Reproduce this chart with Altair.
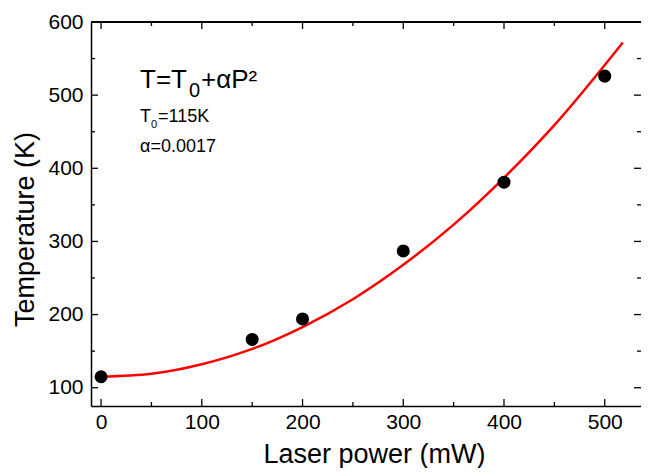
import altair as alt
import pandas as pd

# measured data points
power = [0, 150, 200, 300, 400, 500]
temperature = [115, 166, 194, 287, 381, 526]

# fit curve
curve_p = [0, 50, 100, 150, 200, 250, 300, 350, 400, 450, 518]
curve_t = [115, 119, 132, 153, 183, 221, 268, 323, 387, 459, 572]

x_major = [0, 100, 200, 300, 400, 500]
x_minor = [50, 150, 250, 350, 450]
y_major = [100, 200, 300, 400, 500, 600]
y_minor = [150, 250, 350, 450, 550]

W, H = 550, 384
XDOM = [-10, 536]
YDOM = [75, 600]
FONT = "Liberation Sans"

pts = pd.DataFrame({"P": power, "T": temperature})
crv = pd.DataFrame({"P": curve_p, "T": curve_t})

xs = alt.Scale(domain=XDOM, nice=False, zero=False)
ys = alt.Scale(domain=YDOM, nice=False, zero=False)

base_axes = alt.Chart(pts).mark_point(opacity=0).encode(
    x=alt.X("P:Q", scale=xs, axis=alt.Axis(
        title="Laser power (mW)", values=x_major, ticks=False, tickSize=0,
        labelPadding=5, labelFontSize=21, labelFont=FONT, labelColor="black",
        titleFont=FONT, titleFontSize=27, titleFontWeight="normal", titleColor="black",
        titleBaseline="alphabetic", titleY=56, titleX=283,
        domainColor="black", domainWidth=1.5, grid=False)),
    y=alt.Y("T:Q", scale=ys, axis=alt.Axis(
        title="Temperature (K)", values=y_major, ticks=False, tickSize=0,
        labelPadding=8, labelFontSize=21, labelFont=FONT, labelColor="black",
        titleFont=FONT, titleFontSize=27, titleFontWeight="normal", titleColor="black",
        titleBaseline="alphabetic", titleAngle=-90, titleX=-58, titleY=207,
        domainColor="black", domainWidth=1.5, grid=False)),
)

top_line = alt.Chart(pts).mark_rule(color="black", strokeWidth=1.5).encode(
    x=alt.value(0), x2=alt.value(W), y=alt.value(0))

def xticks(vals, length):
    df = pd.DataFrame({"P": vals})
    b = alt.Chart(df).mark_rule(color="black", strokeWidth=1.3).encode(
        x=alt.X("P:Q", scale=xs), y=alt.value(H), y2=alt.value(H - length))
    t = alt.Chart(df).mark_rule(color="black", strokeWidth=1.3).encode(
        x=alt.X("P:Q", scale=xs), y=alt.value(0), y2=alt.value(length))
    return [b, t]

def yticks(vals, length):
    df = pd.DataFrame({"T": vals})
    l = alt.Chart(df).mark_rule(color="black", strokeWidth=1.3).encode(
        y=alt.Y("T:Q", scale=ys), x=alt.value(0), x2=alt.value(length))
    r = alt.Chart(df).mark_rule(color="black", strokeWidth=1.3).encode(
        y=alt.Y("T:Q", scale=ys), x=alt.value(W), x2=alt.value(W - length))
    return [l, r]

tick_layers = xticks(x_major, 7) + xticks(x_minor, 4) + yticks(y_major, 7) + yticks(y_minor, 4)

curve = alt.Chart(crv).mark_line(color="#ff0000", strokeWidth=2.5, interpolate="monotone").encode(
    x=alt.X("P:Q", scale=xs), y=alt.Y("T:Q", scale=ys))

points = alt.Chart(pts).mark_circle(color="black", size=170, opacity=1).encode(
    x=alt.X("P:Q", scale=xs), y=alt.Y("T:Q", scale=ys))

# annotation text pieces
ann_text = ["T=T", "0", "+αP²", "T", "0", "=115K", "α=0.0017"]
ann_x = [49, 98, 110, 49, 60, 67, 49]
ann_y = [66, 75, 66, 100, 106, 100, 130]
ann_size = [26, 20, 26, 18, 11, 18, 18]

ann_df = pd.DataFrame({"t": ann_text, "px": ann_x, "py": ann_y, "fs": ann_size})
ann = alt.Chart(ann_df).mark_text(align="left", baseline="alphabetic", font=FONT, color="black").encode(
    x=alt.X("px:Q", scale=None), y=alt.Y("py:Q", scale=None),
    text="t:N", size=alt.Size("fs:Q", scale=None, legend=None))

chart = alt.layer(base_axes, top_line, *tick_layers, curve, points, ann).properties(
    width=W, height=H,
    autosize=alt.AutoSizeParams(type="none"),
    padding={"left": 83, "top": 14, "right": 0, "bottom": 62},
).configure_view(stroke=None).configure(background="white")

chart.save("out.html", embed_options={"renderer": "svg", "actions": False})
